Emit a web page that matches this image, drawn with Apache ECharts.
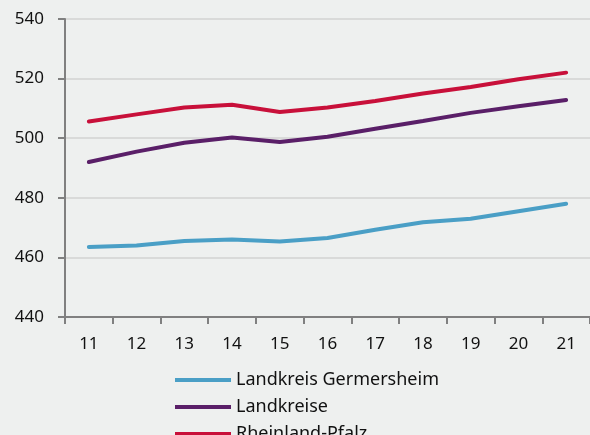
<!DOCTYPE html>
<html>
<head>
<meta charset="utf-8">
<script src="https://cdn.jsdelivr.net/npm/echarts@6/dist/echarts.min.js"></script>
<style>
  html, body { margin: 0; padding: 0; background: #eef0ef; }
  #chart { width: 590px; height: 435px; }
</style>
</head>
<body>
<div id="chart"></div>
<script>
// years (2011 - 2021)
var years = ['11', '12', '13', '14', '15', '16', '17', '18', '19', '20', '21'];
var germersheim = [463.5, 464, 465.5, 466, 465.3, 466.5, 469.3, 471.8, 473, 475.5, 478];
var landkreise = [492, 495.5, 498.5, 500.2, 498.7, 500.5, 503.2, 505.8, 508.5, 510.7, 512.8];
var rlp = [505.6, 508, 510.3, 511.2, 508.8, 510.3, 512.5, 515, 517.2, 519.8, 522];
var names = ['Landkreis Germersheim', 'Landkreise', 'Rheinland-Pfalz'];
var colors = ['#4a9fc6', '#5a1f68', '#c8103a'];

var chart = echarts.init(document.getElementById('chart'));

var font = 'Noto Sans';
var txt = '#111111';

function mkSeries(name, data, color) {
  return {
    name: name,
    type: 'line',
    data: data,
    symbol: 'none',
    smooth: false,
    lineStyle: { color: color, width: 4, cap: 'round' },
    itemStyle: { color: color }
  };
}

var option = {
  backgroundColor: '#eef0ef',
  animation: false,
  grid: { left: 65, right: 0, top: 19, bottom: 118 },
  legend: {
    orient: 'vertical',
    left: 175,
    top: 371,
    height: 80,
    padding: 0,
    itemWidth: 56,
    itemHeight: 4,
    itemGap: 9,
    icon: 'rect',
    textStyle: { fontFamily: font, fontSize: 18, color: txt, lineHeight: 14 },
    data: names
  },
  xAxis: {
    type: 'category',
    data: years,
    boundaryGap: true,
    axisLine: { lineStyle: { color: '#808080', width: 2 } },
    axisTick: { show: true, length: 7, lineStyle: { color: '#808080', width: 2 } },
    axisLabel: { fontFamily: font, fontSize: 17, color: txt, margin: 19 },
    splitLine: { show: false }
  },
  yAxis: {
    type: 'value',
    min: 440,
    max: 540,
    interval: 20,
    axisLine: { show: true, lineStyle: { color: '#808080', width: 2 } },
    axisTick: { show: true, length: 7, lineStyle: { color: '#808080', width: 2 } },
    axisLabel: { fontFamily: font, fontSize: 17, color: txt, margin: 21 },
    splitLine: { show: true, lineStyle: { color: '#d2d3d2', width: 1.5 } }
  },
  series: [
    mkSeries(names[0], germersheim, colors[0]),
    mkSeries(names[1], landkreise, colors[1]),
    mkSeries(names[2], rlp, colors[2])
  ]
};

chart.setOption(option);
</script>
</body>
</html>
